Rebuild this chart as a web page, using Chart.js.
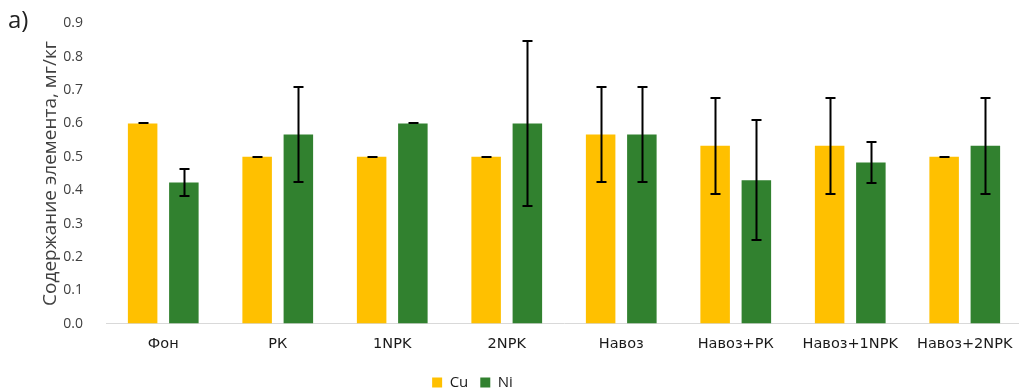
<!DOCTYPE html>
<html>
<head>
<meta charset="utf-8">
<script src="https://cdn.jsdelivr.net/npm/chart.js@4/dist/chart.umd.min.js"></script>
<style>
  html, body { margin: 0; padding: 0; background: #fff; overflow: hidden; }
  #wrap { position: absolute; left: 0; top: 0; width: 1022px; height: 400px; }
  #tag { position: absolute; left: 8px; top: 2px; font: 24px "Open Sans", sans-serif; color: #222; }
</style>
</head>
<body>
<div id="wrap"><canvas id="c"></canvas></div>
<div id="tag">а)</div>
<script>
// Treatments and element content (mg/kg) with error half-widths
const categories = ['Фон', 'РК', '1NPK', '2NPK', 'Навоз', 'Навоз+РК', 'Навоз+1NPK', 'Навоз+2NPK'];
const cuValues = [0.600, 0.500, 0.500, 0.500, 0.567, 0.533, 0.533, 0.500];
const cuErrors = [0.000, 0.000, 0.000, 0.000, 0.143, 0.144, 0.144, 0.000];
const niValues = [0.423, 0.567, 0.600, 0.600, 0.567, 0.430, 0.483, 0.533];
const niErrors = [0.039, 0.143, 0.000, 0.247, 0.143, 0.179, 0.062, 0.144];
const yTicks = [0, 0.1, 0.2, 0.3, 0.4, 0.5, 0.6, 0.7, 0.8, 0.9];

const FONT = '"Open Sans", sans-serif';

// Draws vertical error bars with caps on top of each bar
const errorBars = {
  id: 'errorBars',
  afterDatasetsDraw(chart) {
    const ctx = chart.ctx;
    const y = chart.scales.y;
    ctx.save();
    ctx.strokeStyle = '#000';
    ctx.lineWidth = 2;
    chart.data.datasets.forEach((ds, di) => {
      const meta = chart.getDatasetMeta(di);
      meta.data.forEach((bar, i) => {
        const v = ds.data[i], e = ds.errors[i];
        const x = Math.round(bar.x) + 0.5;
        const yTop = Math.round(y.getPixelForValue(v + e));
        const yBot = Math.round(y.getPixelForValue(v - e));
        const cap = 5;
        ctx.beginPath();
        ctx.moveTo(x, yTop); ctx.lineTo(x, yBot);
        ctx.moveTo(x - cap, yTop); ctx.lineTo(x + cap, yTop);
        ctx.moveTo(x - cap, yBot); ctx.lineTo(x + cap, yBot);
        ctx.stroke();
      });
    });
    ctx.restore();
  }
};

// Moves the legend block under the middle of the figure and closer to the bottom edge
const legendShift = {
  id: 'legendShift',
  afterLayout(chart) {
    const lg = chart.legend;
    if (lg) {
      lg.left -= 58; lg.right -= 58;
      lg.top += 6; lg.bottom += 6;
    }
  }
};

new Chart(document.getElementById('c'), {
  type: 'bar',
  data: {
    labels: categories,
    datasets: [
      { label: 'Cu', data: cuValues, errors: cuErrors, backgroundColor: '#FFC000',
        categoryPercentage: 0.72, barPercentage: 0.716 },
      { label: 'Ni', data: niValues, errors: niErrors, backgroundColor: '#31812F',
        categoryPercentage: 0.72, barPercentage: 0.716 }
    ]
  },
  options: {
    responsive: true,
    maintainAspectRatio: false,
    devicePixelRatio: 1,
    animation: false,
    layout: { padding: { left: 39, right: 0, top: 10, bottom: 6 } },
    scales: {
      x: {
        grid: { display: false },
        border: { color: '#D9D9D9', width: 1 },
        ticks: { color: '#1a1a1a', font: { family: '"DejaVu Sans", sans-serif', size: 14.5 }, padding: 4 }
      },
      y: {
        min: 0, max: 0.9,
        afterBuildTicks(scale) { scale.ticks = yTicks.map(v => ({ value: v })); },
        afterFit(scale) { scale.width = 67; },
        grid: { display: false },
        border: { display: false },
        ticks: { color: '#404040', font: { family: FONT, size: 14 }, padding: 15,
                 callback: v => v.toFixed(1) },
        title: { display: true, text: 'Содержание элемента, мг/кг', color: '#404040',
                 font: { family: FONT, size: 19 }, padding: { top: 0, bottom: 0 } }
      }
    },
    plugins: {
      legend: {
        position: 'bottom',
        labels: { boxWidth: 10, boxHeight: 10, padding: 12, color: '#1a1a1a',
                  font: { family: FONT, size: 15 } }
      },
      tooltip: { enabled: false }
    }
  },
  plugins: [errorBars, legendShift]
});
</script>
</body>
</html>
